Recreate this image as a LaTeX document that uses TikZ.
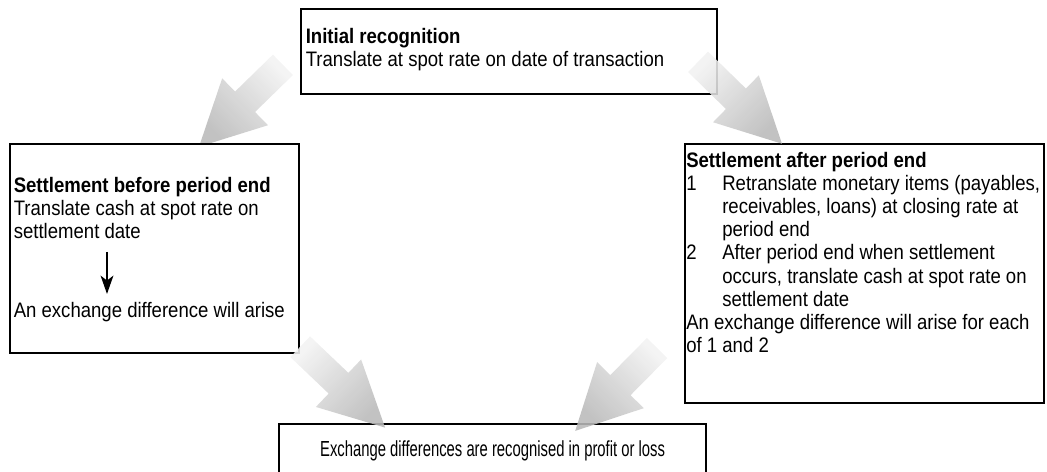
\documentclass[tikz,border=0pt]{standalone}
\usepackage{fontspec}
\setmainfont{Liberation Sans}[FakeStretch=0.886]
\newfontfamily\narrowfont{Liberation Sans}[FakeStretch=0.68]
\usepackage{tikz}
\usetikzlibrary{shapes.arrows, arrows.meta, positioning, calc}
\tikzstyle{box} = [rectangle, draw=black, line width=1.5pt, fill=white, anchor=north west, inner sep=0pt]
\tikzstyle{txt} = [align=left, inner sep=0pt, font=\fontsize{14.9}{16.5}\selectfont]
\tikzstyle{bigarrow} = [single arrow, single arrow head extend=0.4625cm, single arrow tip angle=54, minimum width=1.625cm, inner xsep=0pt, inner ysep=0.35cm, top color=gray!10, bottom color=gray!55, fill opacity=0.88]
\tikzstyle{arrow} = [line width=1.8pt, -{Stealth[length=13pt, width=9pt, inset=3.5pt]}]

% fat shaded arrow between two points, light at the tail
\newcommand{\fatarrow}[2]{%
  \path let \p1=($(#2)-(#1)$), \n1={atan2(\y1,\x1)}, \n2={veclen(\x1,\y1)}, \n3={\n1+90} in
    node[bigarrow, minimum height=\n2, rotate=\n1, shading angle=\n3] at ($(#1)!0.5!(#2)$) {};}

\begin{document}
\begin{tikzpicture}[x=0.025cm, y=-0.025cm]
        \useasboundingbox (0,0) rectangle (1047,472);

        % end points of the big arrows
        \coordinate (a1s) at (293,55);
        \coordinate (a1e) at (209,137);
        \coordinate (a2s) at (688,52);
        \coordinate (a2e) at (772,134);
        \coordinate (a3s) at (290,337);
        \coordinate (a3e) at (375,418);
        \coordinate (a4s) at (667,338);
        \coordinate (a4e) at (585,421);

        \fatarrow{a1s}{a1e}

        \node (init) [box, minimum width=10.4cm, minimum height=2.125cm] at (300,8) {};
        \node (before) [box, minimum width=7.225cm, minimum height=5.225cm] at (9,143) {};
        \node (after) [box, minimum width=8.975cm, minimum height=6.475cm] at (684,143) {};
        \node (result) [box, minimum width=10.675cm, minimum height=1.35cm, font=\narrowfont\fontsize{15.5}{16.5}\selectfont] at (278,423) {Exchange differences are recognised in profit or loss};

        \node (initT) [txt, below right=0.4925cm and 0.1375cm of init.north west] {\textbf{Initial recognition}\\Translate at spot rate on date of transaction};
        \node (beforeT) [txt, below right=0.8425cm and 0.1125cm of before.north west] {\textbf{Settlement before period end}\\Translate cash at spot rate on\\settlement date\\[39.7pt]An exchange difference will arise};
        \node (afterT) [txt, below right=0.2175cm and 0.05cm of after.north west] {\textbf{Settlement after period end}\\
            \makebox[25.6pt][l]{1}Retranslate monetary items (payables,\\
            \hspace*{25.6pt}receivables, loans) at closing rate at\\
            \hspace*{25.6pt}period end\\
            \makebox[25.6pt][l]{2}After period end when settlement\\
            \hspace*{25.6pt}occurs, translate cash at spot rate on\\
            \hspace*{25.6pt}settlement date\\
            An exchange difference will arise for each\\
            of 1 and 2};

        \coordinate (s1) at (107,252);
        \coordinate (s2) at (107,294);
        \draw [arrow] (s1) -- (s2);

        \fatarrow{a2s}{a2e}
        \fatarrow{a3s}{a3e}
        \fatarrow{a4s}{a4e}
    \end{tikzpicture}
\end{document}
